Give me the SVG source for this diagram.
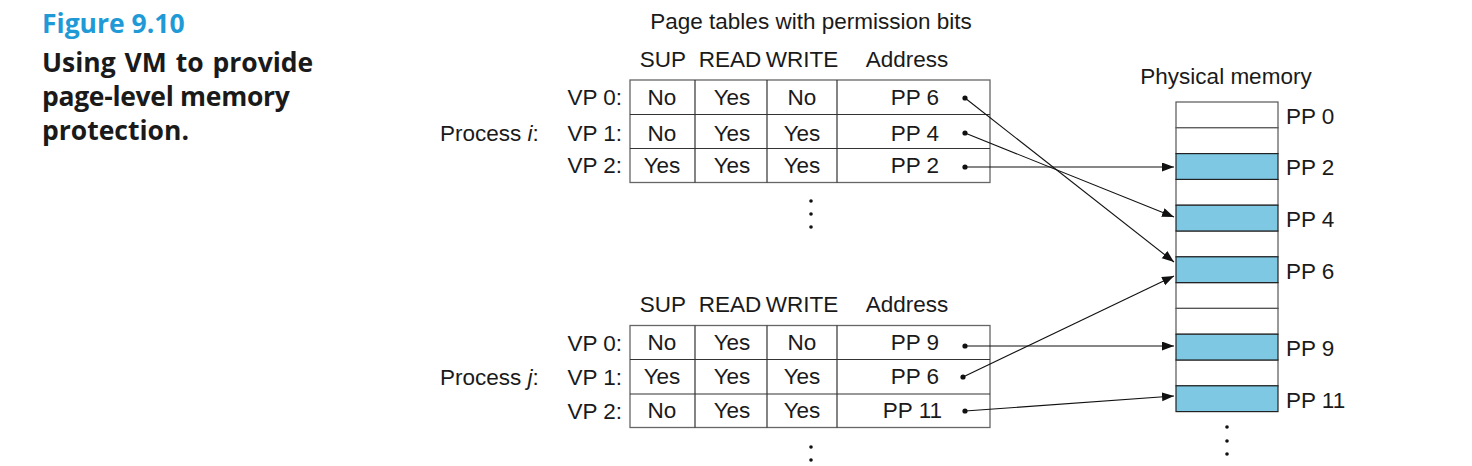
<svg xmlns="http://www.w3.org/2000/svg" width="1472" height="466" viewBox="0 0 1472 466">
<style>
.t{font-family:"Liberation Sans",Arial,sans-serif;font-size:22.5px;fill:#1a1a1a}
.c{text-anchor:middle}
.r{text-anchor:end}
.cap{font-family:"Open Sans","DejaVu Sans",sans-serif;font-weight:bold;font-size:26.5px;fill:#1a1a1a}
.fig{fill:#1f9ad6}
.tb{fill:#fff;stroke:#666;stroke-width:1.3}
.ln{stroke:#333;stroke-width:1.2;fill:none}
.mem{fill:#fff;stroke:#555;stroke-width:1.2}
.blue{fill:#7ec8e3;stroke:#222;stroke-width:1.2}
.arr{stroke:#111;stroke-width:1.1;fill:none;marker-end:url(#ah)}
.dot{fill:#111}
</style>
<defs>
<marker id="ah" markerUnits="userSpaceOnUse" markerWidth="14" markerHeight="10" refX="12" refY="4.5" orient="auto">
<path d="M0,0 L12,4.5 L0,9 z" fill="#111"/>
</marker>
</defs>
<rect width="1472" height="466" fill="#fff"/>

<g id="caption">
<text class="cap fig" x="42" y="33">Figure 9.10</text>
<text class="cap" x="42" y="72" word-spacing="2">Using VM to provide</text>
<text class="cap" x="42" y="106" letter-spacing="-0.3">page-level memory</text>
<text class="cap" x="42" y="140">protection.</text>
</g>

<text class="t c" x="811" y="29">Page tables with permission bits</text>

<g id="table-i">
<text class="t c" x="663" y="67">SUP</text>
<text class="t c" x="730" y="67">READ</text>
<text class="t c" x="802" y="67">WRITE</text>
<text class="t c" x="907" y="67">Address</text>
<rect class="tb" x="630" y="80" width="360" height="102.5"/>
<path class="ln" d="M630,114.5H990M630,148.5H990M695,80V182.5M767,80V182.5M837,80V182.5"/>
<text class="t" x="440" y="141">Process <tspan font-style="italic">i</tspan>:</text>
<text class="t r" x="622" y="105">VP 0:</text>
<text class="t r" x="622" y="141">VP 1:</text>
<text class="t r" x="622" y="173">VP 2:</text>
<text class="t c" x="662" y="105">No</text><text class="t c" x="732" y="105">Yes</text><text class="t c" x="802" y="105">No</text><text class="t r" x="939" y="105">PP 6</text>
<text class="t c" x="662" y="141">No</text><text class="t c" x="732" y="141">Yes</text><text class="t c" x="802" y="141">Yes</text><text class="t r" x="939" y="141">PP 4</text>
<text class="t c" x="662" y="173">Yes</text><text class="t c" x="732" y="173">Yes</text><text class="t c" x="802" y="173">Yes</text><text class="t r" x="939" y="173">PP 2</text>
<circle class="dot" cx="811" cy="201" r="1.8"/><circle class="dot" cx="811" cy="214" r="1.8"/><circle class="dot" cx="811" cy="227" r="1.8"/>
</g>

<g id="table-j">
<text class="t c" x="663" y="312">SUP</text>
<text class="t c" x="730" y="312">READ</text>
<text class="t c" x="802" y="312">WRITE</text>
<text class="t c" x="907" y="312">Address</text>
<rect class="tb" x="630" y="325.5" width="360" height="102"/>
<path class="ln" d="M630,359.5H990M630,394H990M695,325.5V427.5M767,325.5V427.5M837,325.5V427.5"/>
<text class="t" x="440" y="385">Process <tspan font-style="italic">j</tspan>:</text>
<text class="t r" x="622" y="351">VP 0:</text>
<text class="t r" x="622" y="385">VP 1:</text>
<text class="t r" x="622" y="419">VP 2:</text>
<text class="t c" x="662" y="350">No</text><text class="t c" x="732" y="350">Yes</text><text class="t c" x="802" y="350">No</text><text class="t r" x="939" y="350">PP 9</text>
<text class="t c" x="662" y="384">Yes</text><text class="t c" x="732" y="384">Yes</text><text class="t c" x="802" y="384">Yes</text><text class="t r" x="939" y="384">PP 6</text>
<text class="t c" x="662" y="418">No</text><text class="t c" x="732" y="418">Yes</text><text class="t c" x="802" y="418">Yes</text><text class="t r" x="942" y="418">PP 11</text>
<circle class="dot" cx="811" cy="447" r="1.8"/><circle class="dot" cx="811" cy="460" r="1.8"/>
</g>

<g id="physical-memory">
<text class="t c" x="1226" y="84">Physical memory</text>
<rect class="mem" x="1176" y="102" width="102" height="25.8"/>
<rect class="mem" x="1176" y="127.8" width="102" height="25.8"/>
<rect class="mem" x="1176" y="179.4" width="102" height="25.8"/>
<rect class="mem" x="1176" y="231" width="102" height="25.8"/>
<rect class="mem" x="1176" y="282.6" width="102" height="25.8"/>
<rect class="mem" x="1176" y="308.4" width="102" height="25.8"/>
<rect class="mem" x="1176" y="360" width="102" height="25.8"/>
<rect class="blue" x="1176" y="153.6" width="102" height="25.8"/>
<rect class="blue" x="1176" y="205.2" width="102" height="25.8"/>
<rect class="blue" x="1176" y="256.8" width="102" height="25.8"/>
<rect class="blue" x="1176" y="334.2" width="102" height="25.8"/>
<rect class="blue" x="1176" y="385.8" width="102" height="25.8"/>
<text class="t" x="1286" y="124">PP 0</text>
<text class="t" x="1286" y="175">PP 2</text>
<text class="t" x="1286" y="227">PP 4</text>
<text class="t" x="1286" y="279">PP 6</text>
<text class="t" x="1286" y="356">PP 9</text>
<text class="t" x="1286" y="408">PP 11</text>
<circle class="dot" cx="1227" cy="427" r="1.8"/><circle class="dot" cx="1227" cy="441" r="1.8"/><circle class="dot" cx="1227" cy="454" r="1.8"/>
</g>

<g id="connectors">
<circle class="dot" cx="965" cy="98" r="2.6"/>
<circle class="dot" cx="965" cy="133" r="2.6"/>
<circle class="dot" cx="965" cy="167" r="2.6"/>
<circle class="dot" cx="965" cy="346" r="2.6"/>
<circle class="dot" cx="963" cy="377" r="2.6"/>
<circle class="dot" cx="965" cy="411" r="2.6"/>
<path class="arr" d="M965,98L1174,262"/>
<path class="arr" d="M965,133L1174,217"/>
<path class="arr" d="M965,167L1174,167"/>
<path class="arr" d="M965,346L1174,346"/>
<path class="arr" d="M963,377L1174,276"/>
<path class="arr" d="M965,411L1174,396"/>
</g>
</svg>
